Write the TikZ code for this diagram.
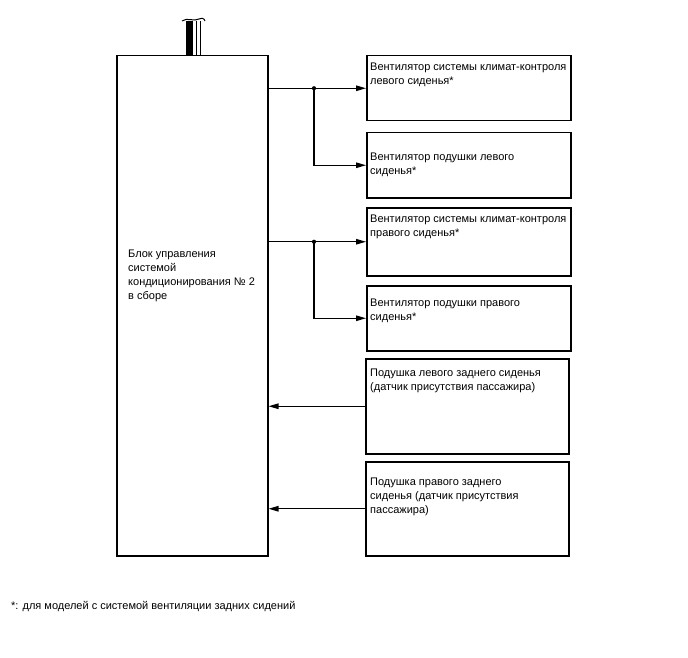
\documentclass[tikz,border=0pt]{standalone}
\usepackage{fontspec}
\setmainfont{Liberation Sans}
\usetikzlibrary{arrows.meta}
\begin{document}
\begin{tikzpicture}[x=1pt,y=-1pt,
  box/.style={draw, line width=1.5pt, anchor=north west, inner sep=0pt},
  txt/.style={anchor=north west, inner sep=0pt, align=left, font=\fontsize{11}{14}\selectfont},
  arr/.style={line width=1.2pt, -{Triangle[length=10pt,width=5.5pt]}}]
\useasboundingbox (0,0) rectangle (688,658);
% main block
\node[box, minimum width=151pt, minimum height=500pt] (ecu) at (116,55) {};
\node[txt] (ecut) at (128,250) {Блок управления\\системой\\кондиционирования № 2\\в сборе};
% top connector symbol
\fill (187,21) rectangle (193,55);
\draw[line width=1pt] (186,21) -- (186,55);
\draw[line width=1pt] (196.5,21) -- (196.5,55);
\draw[line width=1pt] (200.5,21) -- (200.5,55);
\draw[line width=1pt] (182,21) .. controls (187,17) and (194,22) .. (199,19) .. controls (202,18) and (204,18) .. (205,21);
% right boxes
\node[box, minimum width=204pt, minimum height=65pt] (b1) at (366,55) {};
\node[box, minimum width=204pt, minimum height=65pt] (b2) at (366,132) {};
\node[box, minimum width=204pt, minimum height=68pt] (b3) at (366,207) {};
\node[box, minimum width=204pt, minimum height=65pt] (b4) at (366,285) {};
\node[box, minimum width=203pt, minimum height=95pt] (b5) at (365,358) {};
\node[box, minimum width=203pt, minimum height=94pt] (b6) at (365,461) {};
\node[txt] (t1) at (370,63) {Вентилятор системы климат-контроля\\левого сиденья*};
\node[txt] (t2) at (370,153) {Вентилятор подушки левого\\сиденья*};
\node[txt] (t3) at (370,215) {Вентилятор системы климат-контроля\\правого сиденья*};
\node[txt] (t4) at (370,299) {Вентилятор подушки правого\\сиденья*};
\node[txt] (t5) at (370,369) {Подушка левого заднего сиденья\\(датчик присутствия пассажира)};
\node[txt] (t6) at (370,478) {Подушка правого заднего\\сиденья (датчик присутствия\\пассажира)};
% connectors
\path (b1.west) ++(-52,0) coordinate (j1);
\path (b3.west) ++(-52,0) coordinate (j2);
\draw[arr] (ecu.east |- b1.west) -- (b1.west);
\draw[arr] (j1) |- (b2.west);
\fill (j1) circle (2.1);
\draw[arr] (ecu.east |- b3.west) -- (b3.west);
\draw[arr] (j2) |- (b4.west);
\fill (j2) circle (2.1);
\draw[arr] (b5.west) -- (ecu.east |- b5.west);
\draw[arr] (b6.west) -- (ecu.east |- b6.west);
% footnote
\node[txt] (fn) at (11,601) {*: для моделей с системой вентиляции задних сидений};
\end{tikzpicture}
\end{document}
